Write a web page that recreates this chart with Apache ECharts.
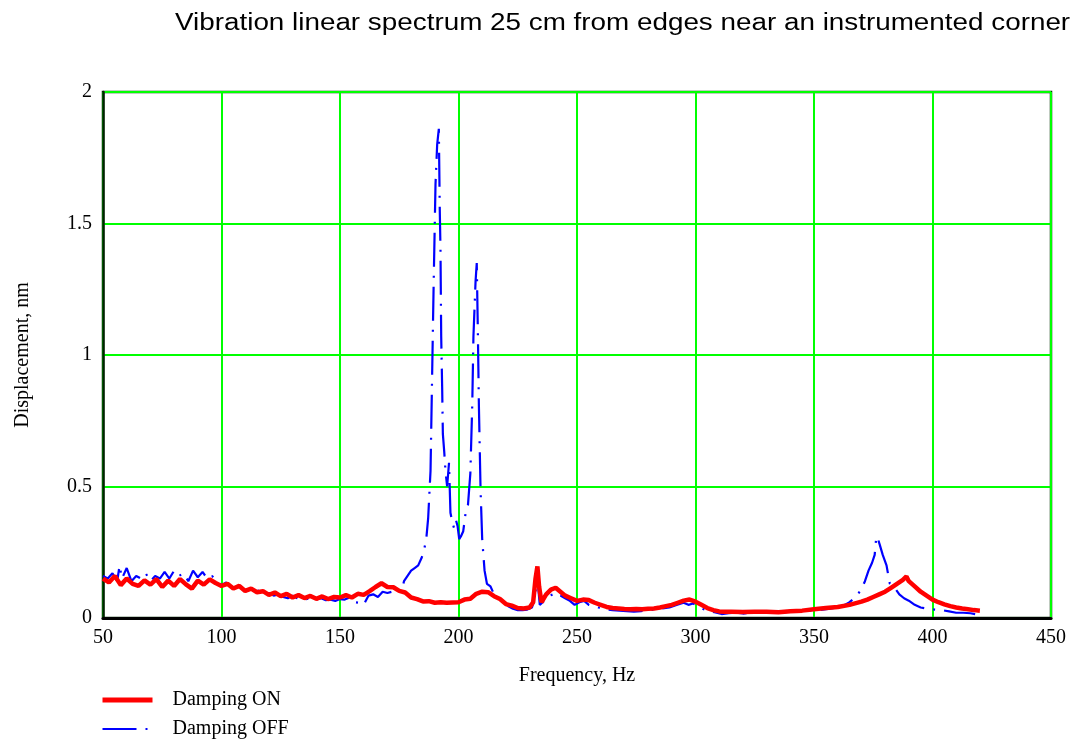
<!DOCTYPE html>
<html>
<head>
<meta charset="utf-8">
<script src="https://cdn.jsdelivr.net/npm/echarts@6/dist/echarts.min.js"></script>
<style>
  html, body { margin: 0; padding: 0; background: #fff; }
  #main { width: 1085px; height: 747px; }
</style>
</head>
<body>
<div id="main"></div>
<script>
// 数据: Damping ON (红色粗实线)
var freqOn = [50, 52.5, 55, 57.5, 60, 62.5, 65, 67.5, 70, 72.5, 75, 77.5, 80, 82.5, 85, 87.5, 90, 92.5, 95, 97.5,
    100, 102.5, 105, 107.5, 110, 112.5, 115, 117.5, 120, 122.5, 125, 127.5, 130, 132.5, 135, 137.5, 140, 142.5, 145, 147.5,
    150, 152.5, 155, 157.5, 160, 162.5, 165, 167.5, 170, 172.5, 175, 177.5, 180, 182.5, 185, 187.5, 190, 192.5, 195, 197.5,
    200, 202.5, 205, 207.5, 210, 212.5, 215, 217.5, 220, 222.5, 225, 227.5, 230, 231.5, 232.5, 233.3, 234, 235, 237, 239,
    241, 243, 245, 247.5, 250, 252.5, 255, 257.5, 260, 262.5, 265, 267.5, 270, 272.5, 275, 277.5, 280, 282.5, 285, 287.5,
    290, 292.5, 295, 297.5, 300, 302.5, 305, 307.5, 310, 312.5, 315, 320, 325, 330, 335, 340, 345, 350, 355, 360,
    365, 370, 372.5, 375, 377.5, 380, 382.5, 385, 387.5, 389, 390, 392.5, 395, 397.5, 400, 402.5, 405, 407.5, 410, 412.5,
    415, 417.5, 420];
var dispOn = [0.15, 0.135, 0.16, 0.125, 0.15, 0.13, 0.122, 0.143, 0.127, 0.148, 0.118, 0.142, 0.122, 0.148, 0.128, 0.112, 0.142, 0.127, 0.147, 0.133,
    0.122, 0.13, 0.112, 0.122, 0.103, 0.112, 0.098, 0.102, 0.088, 0.097, 0.083, 0.092, 0.078, 0.087, 0.076, 0.084, 0.073, 0.082, 0.072, 0.08,
    0.078, 0.087, 0.078, 0.092, 0.088, 0.102, 0.118, 0.132, 0.118, 0.117, 0.103, 0.097, 0.078, 0.072, 0.063, 0.064, 0.058, 0.06, 0.058, 0.059,
    0.06, 0.07, 0.073, 0.092, 0.1, 0.098, 0.083, 0.072, 0.053, 0.047, 0.038, 0.036, 0.04, 0.06, 0.15, 0.196, 0.12, 0.06, 0.09, 0.108,
    0.115, 0.1, 0.085, 0.075, 0.065, 0.07, 0.068, 0.058, 0.05, 0.042, 0.038, 0.036, 0.034, 0.033, 0.034, 0.033, 0.035, 0.036, 0.04, 0.045,
    0.05, 0.058, 0.066, 0.07, 0.062, 0.05, 0.038, 0.03, 0.025, 0.024, 0.024, 0.023, 0.024, 0.024, 0.022, 0.026, 0.028, 0.033, 0.038, 0.042,
    0.05, 0.062, 0.07, 0.08, 0.09, 0.1, 0.115, 0.13, 0.145, 0.158, 0.14, 0.12, 0.1, 0.085, 0.07, 0.06, 0.052, 0.045, 0.04, 0.036,
    0.033, 0.03, 0.028];

// 数据: Damping OFF (蓝色点划线)
var freqOff = [50, 52, 54, 56, 57, 58, 60, 62, 64, 66, 68, 70, 72, 74, 76, 78, 80, 82, 84, 86,
    88, 90, 92, 94, 96, 98, 100, 102, 104, 106, 108, 110, 112, 114, 116, 118, 120, 122, 124, 126,
    128, 130, 132, 134, 136, 138, 140, 142, 144, 146, 148, 150, 152, 154, 156, 158, 160, 162, 164, 166,
    168, 170, 172, 174, 176, 177, 178.5, 180, 181.5, 183, 184.5, 185.5, 186.4, 187.2, 188.2, 189.5, 190.3, 191, 191.7, 192.1,
    192.4, 192.7, 193.1, 193.4, 194, 194.5, 195.2, 196, 196.6, 197.5, 198.2, 199, 199.6, 200.3, 201, 202, 203, 204, 205, 205.8,
    206.3, 207.2, 207.7, 208.2, 208.6, 209.3, 210, 211, 212, 213.5, 215, 217, 219, 221, 223, 225, 227, 229, 231, 232,
    233.3, 234.3, 235.5, 237, 238.5, 240, 241.5, 243, 245, 247, 249, 251, 253, 255, 257, 259, 261, 263, 265, 268,
    271, 274, 277, 280, 283, 286, 289, 292, 295, 297, 299, 301, 303, 305, 308, 311, 314, 317, 320, 324,
    328, 332, 336, 340, 344, 348, 352, 356, 360, 363, 365, 367, 368.5, 370, 371.5, 373, 374.5, 375.6, 376.3, 377,
    377.7, 379, 380.6, 382, 384, 386, 388, 390, 392.5, 395, 398, 401, 404, 407, 410, 413, 416, 418];
var dispOff = [0.16, 0.15, 0.17, 0.14, 0.2, 0.15, 0.19, 0.14, 0.16, 0.15, 0.17, 0.14, 0.16, 0.15, 0.175, 0.15, 0.18, 0.16, 0.17, 0.14,
    0.18, 0.155, 0.175, 0.15, 0.16, 0.14, 0.125, 0.135, 0.12, 0.115, 0.12, 0.105, 0.11, 0.1, 0.105, 0.09, 0.095, 0.085, 0.09, 0.08,
    0.075, 0.085, 0.075, 0.07, 0.072, 0.078, 0.07, 0.075, 0.068, 0.07, 0.065, 0.072, 0.07, 0.078, 0.06, 0.058, 0.05, 0.085, 0.09, 0.08,
    0.1, 0.095, 0.1, 0.11, 0.1, 0.14, 0.16, 0.18, 0.19, 0.2, 0.23, 0.26, 0.3, 0.38, 0.56, 1.26, 1.65, 1.8, 1.86, 1.55,
    1.4, 1.07, 0.88, 0.7, 0.63, 0.56, 0.5, 0.59, 0.4, 0.36, 0.34, 0.37, 0.35, 0.3, 0.31, 0.33, 0.4, 0.43, 0.55, 0.81,
    1.07, 1.28, 1.35, 1.07, 0.81, 0.49, 0.3, 0.18, 0.13, 0.12, 0.09, 0.075, 0.06, 0.045, 0.035, 0.03, 0.03, 0.032, 0.04, 0.07,
    0.15, 0.05, 0.06, 0.07, 0.085, 0.09, 0.08, 0.085, 0.075, 0.065, 0.05, 0.06, 0.065, 0.05, 0.045, 0.04, 0.038, 0.032, 0.03, 0.028,
    0.026, 0.024, 0.026, 0.03, 0.032, 0.036, 0.04, 0.05, 0.058, 0.05, 0.055, 0.045, 0.035, 0.028, 0.022, 0.015, 0.018, 0.02, 0.017, 0.02,
    0.02, 0.022, 0.02, 0.024, 0.026, 0.028, 0.03, 0.035, 0.04, 0.05, 0.06, 0.075, 0.09, 0.11, 0.14, 0.18, 0.21, 0.24, 0.31, 0.3,
    0.28, 0.24, 0.2, 0.13, 0.115, 0.09, 0.075, 0.066, 0.05, 0.04, 0.035, 0.032, 0.03, 0.025, 0.02, 0.02, 0.018, 0.015];

var xTicks = [50, 100, 150, 200, 250, 300, 350, 400, 450];
var yTicks = [0, 0.5, 1, 1.5, 2];

function pairs(xs, ys) {
    var out = [];
    for (var i = 0; i < xs.length; i++) {
        out.push([xs[i], ys[i]]);
    }
    return out;
}

var serif = '"Liberation Serif", "Times New Roman", serif';
var chart = echarts.init(document.getElementById('main'));

var option = {
    animation: false,
    backgroundColor: '#ffffff',
    // 标题: 原图字距较宽, 用横向拉伸来对齐宽度
    graphic: [
        {
            type: 'text',
            left: 175,
            top: 12,
            scaleX: 1.21,
            style: {
                text: 'Vibration linear spectrum 25 cm from edges near an instrumented corner',
                font: '23px "Liberation Sans", Arial, sans-serif',
                fill: '#000'
            }
        }
    ],
    grid: {
        left: 103,
        right: 34,
        top: 92,
        bottom: 129,
        show: true,
        borderColor: '#003300',
        borderWidth: 2.5
    },
    legend: {
        orient: 'vertical',
        left: 100,
        top: 690,
        padding: 0,
        itemWidth: 50,
        itemHeight: 20,
        itemGap: 9,
        itemStyle: { opacity: 0 },
        textStyle: {
            fontFamily: serif,
            fontSize: 20,
            lineHeight: 20,
            color: '#000',
            padding: [0, 0, 0, 15]
        },
        data: [
            { name: 'Damping ON', lineStyle: { width: 5 } },
            { name: 'Damping OFF', lineStyle: { width: 2 } }
        ]
    },
    xAxis: {
        type: 'value',
        min: xTicks[0],
        max: xTicks[xTicks.length - 1],
        interval: 50,
        name: 'Frequency, Hz',
        nameLocation: 'middle',
        nameGap: 48,
        nameTextStyle: { fontFamily: serif, fontSize: 20, color: '#000' },
        axisLine: { show: true, lineStyle: { color: '#000', width: 3 } },
        axisTick: { show: false },
        axisLabel: { fontFamily: serif, fontSize: 20, color: '#000', margin: 10 },
        splitLine: { show: true, lineStyle: { color: '#00ff00', width: 2 } }
    },
    yAxis: {
        type: 'value',
        min: yTicks[0],
        max: yTicks[yTicks.length - 1],
        interval: 0.5,
        name: 'Displacement, nm',
        nameLocation: 'middle',
        nameGap: 70,
        nameTextStyle: { fontFamily: serif, fontSize: 20, color: '#000' },
        axisLine: { show: true, lineStyle: { color: '#002200', width: 2.5 } },
        axisTick: { show: false },
        axisLabel: { fontFamily: serif, fontSize: 20, color: '#000', margin: 11 },
        splitLine: { show: true, lineStyle: { color: '#00ff00', width: 2 } }
    },
    series: [
        {
            name: 'Damping OFF',
            type: 'line',
            symbol: 'none',
            z: 2,
            data: pairs(freqOff, dispOff),
            lineStyle: { color: '#0000ff', width: 2.2, type: [34, 9, 2, 9] },
            itemStyle: { color: '#0000ff' }
        },
        {
            name: 'Damping ON',
            type: 'line',
            symbol: 'none',
            z: 3,
            data: pairs(freqOn, dispOn),
            lineStyle: { color: '#ff0000', width: 4.5 },
            itemStyle: { color: '#ff0000' }
        }
    ]
};

chart.setOption(option);
</script>
</body>
</html>
